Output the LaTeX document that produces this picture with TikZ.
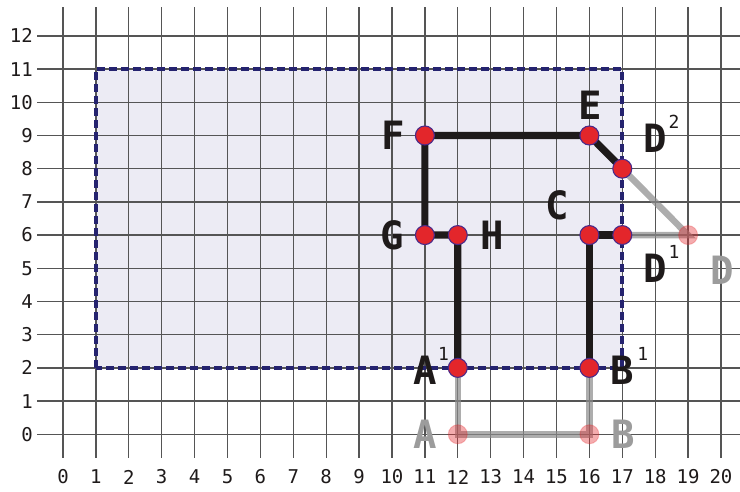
\documentclass[tikz,border=0pt]{standalone}
\usepackage{fontspec}
\newfontfamily\monof{DejaVu Sans Mono}
\definecolor{gridc}{HTML}{555555}
\definecolor{rectfill}{HTML}{ECEBF4}
\definecolor{navy}{HTML}{25236F}
\definecolor{ptred}{HTML}{E3262B}
\definecolor{ptedge}{HTML}{4A2A8A}
\definecolor{inkc}{HTML}{1E1A1A}
\definecolor{greyc}{HTML}{8A8A8A}
\definecolor{greytxt}{HTML}{9C9C9C}
\pgfdeclarelayer{bg}
\pgfdeclarelayer{lines}
\pgfsetlayers{bg,lines,main}
\begin{document}
\begin{tikzpicture}[x=32.9bp,y=33.2bp,
  gridline/.style={draw=gridc, line width=1.3bp},
  axislab/.style={font=\fontsize{19bp}{19bp}\monof, text=inkc, inner sep=0pt},
  rectborder/.style={draw=navy, line width=3.8bp, dash pattern=on 8bp off 4bp},
  rpt/.style={circle, fill=ptred, draw=ptedge, line width=1.1bp, minimum size=19bp, inner sep=0pt},
  gpt/.style={circle, fill=ptred, fill opacity=0.38, draw=ptred, draw opacity=0.25, line width=1bp, minimum size=19bp, inner sep=0pt},
  blkline/.style={draw=inkc, line width=7.2bp, line join=miter},
  gryline/.style={draw=greyc, draw opacity=0.7, line width=6.5bp},
  letter/.style={font=\fontsize{39bp}{39bp}\monof\bfseries, text=inkc, inner sep=0pt},
  gletter/.style={letter, text=greytxt},
  supnum/.style={font=\fontsize{18bp}{18bp}\monof, text=inkc, inner sep=0pt}]
\useasboundingbox (-1.915,-1.738) rectangle (20.578,13.081);
\begin{pgfonlayer}{bg}
  \fill[rectfill] (1,2) rectangle (17,11);
  \foreach \i in {0,...,20} \draw[gridline] (\i,-0.714) -- (\i,12.87);
  \foreach \j in {0,...,12} \draw[gridline] (-0.79,\j) -- (20.578,\j);
  \foreach \i in {0,...,20} \node[axislab] (xl\i) at (\i,-1.286) {\i};
  \foreach \j in {0,...,12} \node[axislab, anchor=east] (yl\j) at (-0.91,\j) {\j};
  \draw[rectborder] (1,2) rectangle (17,11);
\end{pgfonlayer}
% points
\node[gpt] (A) at (12,0) {};
\node[gpt] (B) at (16,0) {};
\node[gpt] (D) at (19,6) {};
\node[rpt] (A1) at (12,2) {};
\node[rpt] (B1) at (16,2) {};
\node[rpt] (C) at (16,6) {};
\node[rpt] (D1) at (17,6) {};
\node[rpt] (D2) at (17,8) {};
\node[rpt] (E) at (16,9) {};
\node[rpt] (F) at (11,9) {};
\node[rpt] (G) at (11,6) {};
\node[rpt] (H) at (12,6) {};
\begin{pgfonlayer}{lines}
  \draw[gryline] (A1.center) -- (A.center) -- (B.center) -- (B1.center);
  \draw[gryline] (D1.center) -- (D.center) -- (D2.center);
  \draw[blkline] (A1.center) -- (H.center) -- (G.center) -- (F.center) -- (E.center) -- (D2.center);
  \draw[blkline] (B1.center) -- (C.center) -- (D1.center);
\end{pgfonlayer}
% labels
\node[letter] (lF) at (10.05,9) {F};
\node[letter] (lG) at (10.0,6) {G};
\node[letter] (lH) at (13.04,6) {H};
\node[letter] (lC) at (15.02,6.9) {C};
\node[letter] (lE) at (16.02,9.92) {E};
\node[letter] (lD2) at (18.0,8.92) {D};
\node[supnum] (sD2) at (18.57,9.4) {2};
\node[letter] (lD1) at (18.0,5.01) {D};
\node[supnum] (sD1) at (18.57,5.48) {1};
\node[gletter] (lD) at (20.03,4.95) {D};
\node[letter] (lA1) at (11.0,1.94) {A};
\node[supnum] (sA1) at (11.57,2.41) {1};
\node[letter] (lB1) at (17.0,1.94) {B};
\node[supnum] (sB1) at (17.62,2.41) {1};
\node[gletter] (lA) at (11.0,0) {A};
\node[gletter] (lB) at (17.02,0) {B};
\end{tikzpicture}
\end{document}
